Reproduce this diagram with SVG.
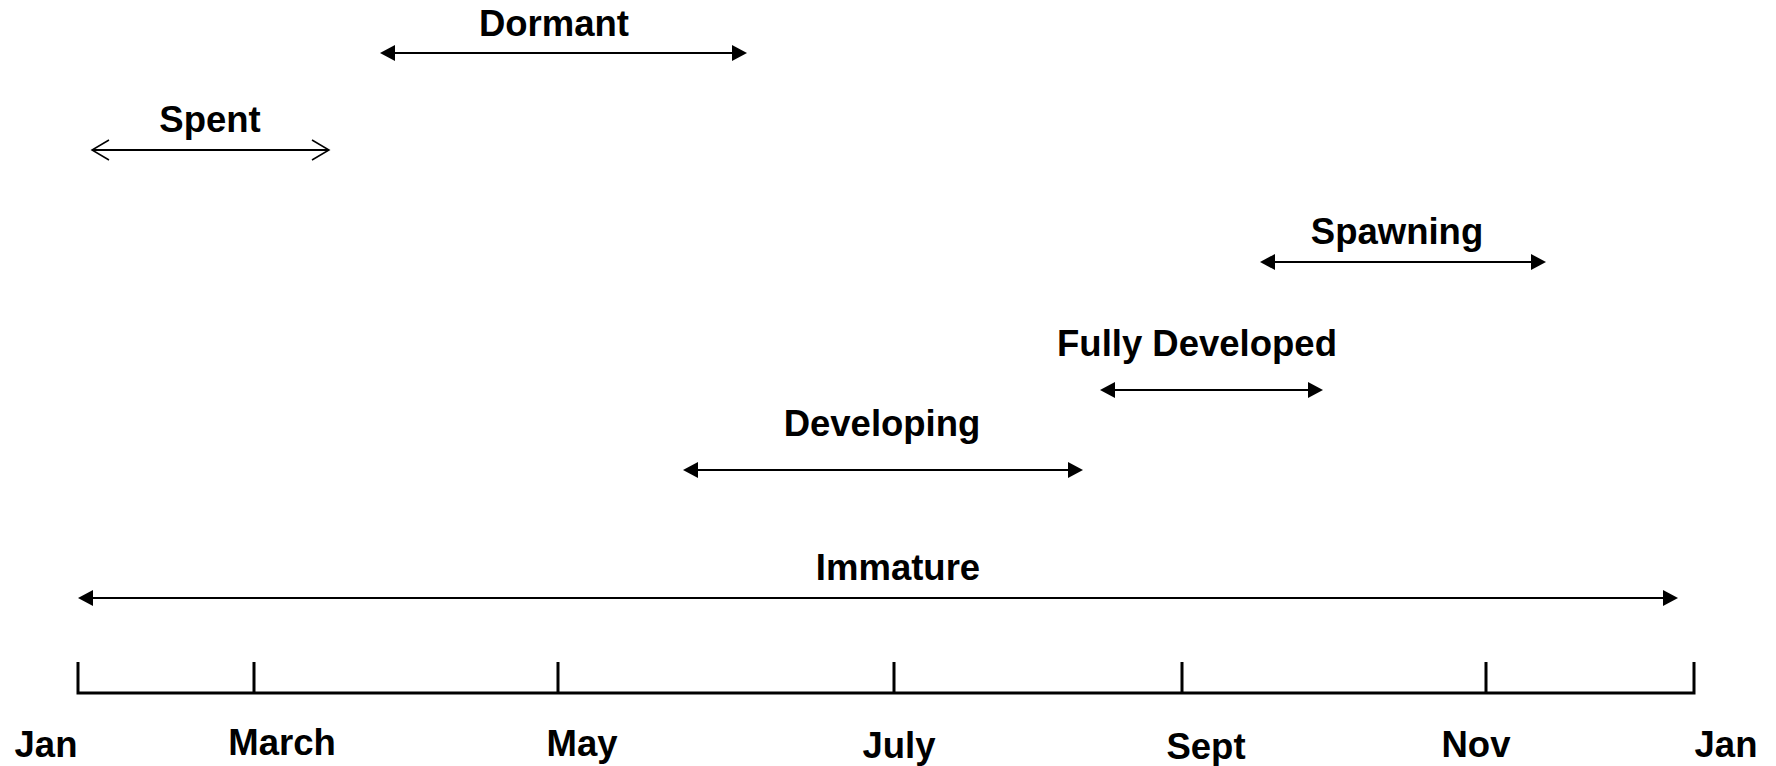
<svg xmlns="http://www.w3.org/2000/svg" width="1776" height="766" viewBox="0 0 1776 766">
  <style>
    .lbl { font-family: "Liberation Sans", Arial, sans-serif; font-weight: bold; font-size: 36.5px; fill: #000; text-anchor: middle; }
    .arr { stroke: #000; stroke-width: 2; fill: none; }
    .axis { stroke: #000; stroke-width: 3; fill: none; }
  </style>
  <defs>
    <marker id="head" markerUnits="userSpaceOnUse" markerWidth="20" markerHeight="20" viewBox="0 -10 20 20" refX="0" refY="0" orient="auto-start-reverse">
      <path d="M0,-8 L15,0 L0,8 Z" fill="#000"/>
    </marker>
    <marker id="open" markerUnits="userSpaceOnUse" markerWidth="24" markerHeight="24" viewBox="-20 -12 24 24" refX="0" refY="0" orient="auto-start-reverse">
      <path d="M-17,-10 L0,0 L-17,10" fill="none" stroke="#000" stroke-width="1.5"/>
    </marker>
  </defs>
  <rect width="1776" height="766" fill="#fff"/>

  <g id="axis">
    <path class="axis" d="M78,662 V693 H1694 V662 M254,662 V693 M558,662 V693 M894,662 V693 M1182,662 V693 M1486,662 V693"/>
    <text class="lbl" x="46" y="757">Jan</text>
    <text class="lbl" x="282" y="755">March</text>
    <text class="lbl" x="582" y="756">May</text>
    <text class="lbl" x="899" y="758">July</text>
    <text class="lbl" x="1206" y="759">Sept</text>
    <text class="lbl" x="1476" y="757">Nov</text>
    <text class="lbl" x="1726" y="757">Jan</text>
  </g>

  <g id="connectors">
    <line class="arr" x1="395" y1="53" x2="732" y2="53" marker-start="url(#head)" marker-end="url(#head)"/>
    <line class="arr" x1="92" y1="150" x2="329" y2="150" marker-start="url(#open)" marker-end="url(#open)"/>
    <line class="arr" x1="1275" y1="262" x2="1531" y2="262" marker-start="url(#head)" marker-end="url(#head)"/>
    <line class="arr" x1="1115" y1="390" x2="1308" y2="390" marker-start="url(#head)" marker-end="url(#head)"/>
    <line class="arr" x1="698" y1="470" x2="1068" y2="470" marker-start="url(#head)" marker-end="url(#head)"/>
    <line class="arr" x1="93" y1="598" x2="1663" y2="598" marker-start="url(#head)" marker-end="url(#head)"/>
  </g>

  <g id="dormant"><text class="lbl" x="554" y="36">Dormant</text></g>
  <g id="spent"><text class="lbl" x="210" y="132">Spent</text></g>
  <g id="spawning"><text class="lbl" x="1397" y="244">Spawning</text></g>
  <g id="fully-developed"><text class="lbl" x="1197" y="356">Fully Developed</text></g>
  <g id="developing"><text class="lbl" x="882" y="436">Developing</text></g>
  <g id="immature"><text class="lbl" x="898" y="580">Immature</text></g>
</svg>
